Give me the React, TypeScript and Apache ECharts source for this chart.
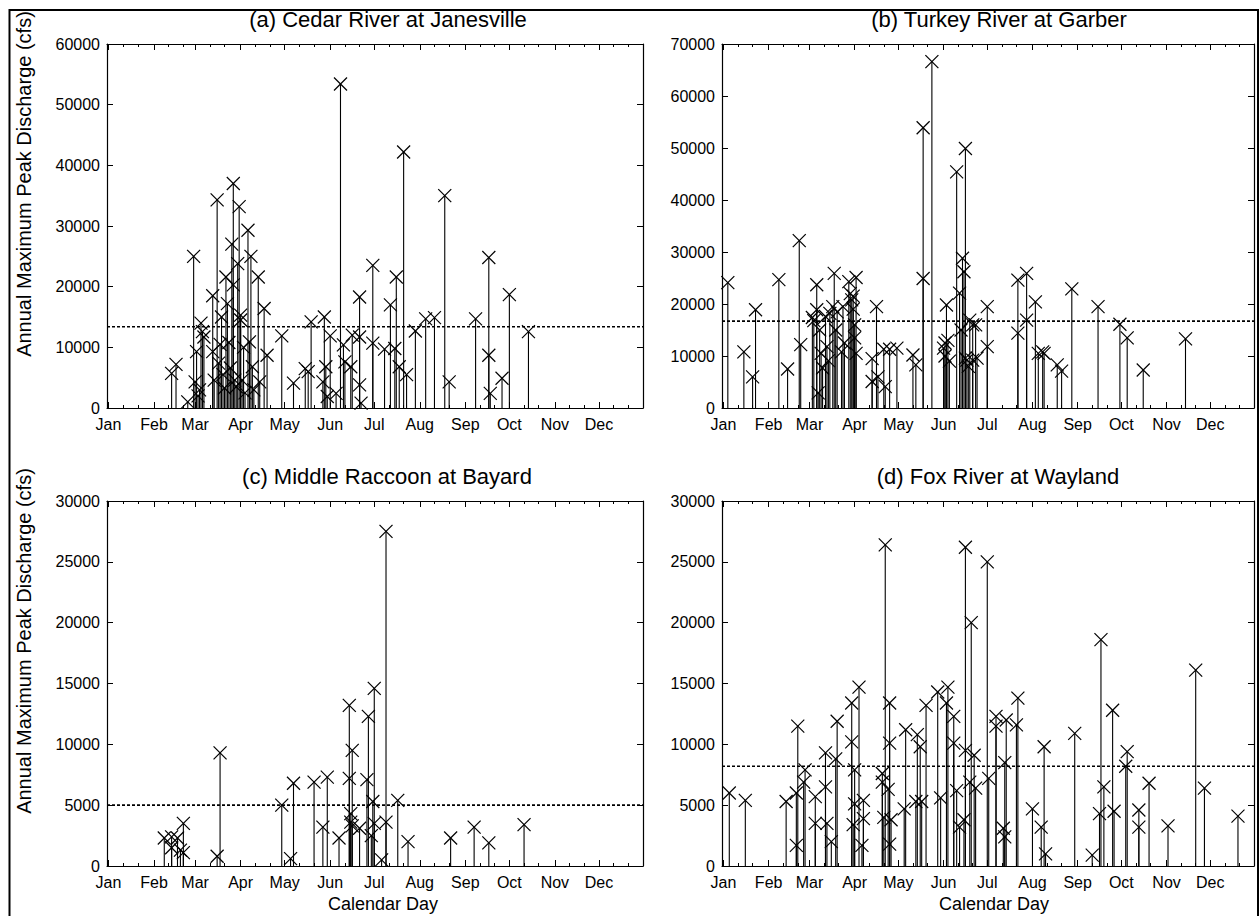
import React, { useEffect, useRef } from 'react';
import * as echarts from 'echarts';

const FONT = '"Liberation Sans", Arial, Helvetica, sans-serif';

const monthNames = ['Jan', 'Feb', 'Mar', 'Apr', 'May', 'Jun', 'Jul', 'Aug', 'Sep', 'Oct', 'Nov', 'Dec'];
const monthStartDays = [1, 32, 60, 91, 121, 152, 182, 213, 244, 274, 305, 335];

const panelTitles = [
  '(a) Cedar River at Janesville',
  '(b) Turkey River at Garber',
  '(c) Middle Raccoon at Bayard',
  '(d) Fox River at Wayland',
];
const yMaxima = [60000, 70000, 30000, 30000];
const yIntervals = [10000, 10000, 5000, 5000];

// (a) Cedar River at Janesville
const cedarDays = [44, 47, 55, 59, 60, 61, 62, 63, 64, 65, 66, 72, 72, 73, 75, 76, 77, 78, 79, 80, 81, 82, 83, 84, 85, 86, 86, 87, 88, 89, 90, 91, 91, 92, 93, 94, 96, 97, 98, 99, 100, 103, 104, 107, 109, 119, 127, 135, 137, 139, 147, 148, 149, 150, 152, 156, 159, 161, 162, 166, 167, 172, 172, 172, 173, 181, 181, 189, 193, 196, 197, 199, 202, 204, 210, 217, 223, 230, 233, 251, 260, 260, 261, 269, 274, 287];
const cedarPeaks = [5700, 7200, 1000, 25000, 4300, 9300, 2000, 3000, 14000, 12600, 11700, 18500, 9300, 4600, 34300, 7400, 10500, 15000, 5500, 3300, 21600, 17200, 10800, 6600, 27000, 20300, 37000, 4600, 3500, 23800, 33200, 15300, 14500, 4600, 10000, 2500, 29300, 10900, 25000, 6800, 3000, 21600, 4300, 16400, 8700, 11900, 4100, 6500, 6000, 14200, 4300, 15000, 6800, 1900, 11900, 2400, 53400, 10400, 7600, 6800, 12000, 18300, 11700, 3800, 800, 23500, 10700, 9700, 17000, 9800, 21600, 6800, 42200, 5500, 12700, 14700, 14900, 35000, 4300, 14700, 24800, 8700, 2400, 4900, 18700, 12600];
const cedarMean = 13400;

// (b) Turkey River at Garber
const turkeyDays = [4, 15, 21, 23, 39, 45, 53, 54, 62, 63, 65, 65, 66, 67, 68, 69, 71, 72, 73, 74, 76, 77, 78, 79, 82, 83, 84, 87, 88, 89, 90, 90, 91, 92, 92, 91, 103, 103, 106, 107, 111, 112, 115, 120, 131, 133, 138, 138, 144, 152, 153, 154, 155, 153, 156, 161, 163, 165, 166, 167, 164, 167, 168, 170, 172, 172, 174, 175, 169, 182, 182, 203, 203, 209, 209, 215, 217, 220, 221, 230, 233, 240, 258, 273, 278, 289, 318];
const turkeyPeaks = [24100, 10800, 6000, 18900, 24700, 7500, 32200, 12200, 17400, 16800, 23700, 18900, 2900, 15000, 10500, 7700, 17600, 11800, 9100, 18200, 19500, 25900, 15000, 18500, 10800, 19500, 12500, 24300, 22000, 20800, 21500, 19000, 16000, 25100, 10500, 13500, 9500, 5100, 19500, 6000, 11300, 4100, 11300, 11500, 10200, 8300, 53900, 24900, 66600, 11500, 12500, 19800, 13000, 10000, 9000, 45400, 22100, 28800, 26200, 49900, 15000, 9600, 9200, 16900, 16000, 9200, 16000, 9600, 8000, 19500, 11800, 24600, 14400, 25900, 16900, 20400, 10500, 10800, 10500, 8300, 7100, 22900, 19500, 16100, 13500, 7300, 13300];
const turkeyMean = 16700;

// (c) Middle Raccoon at Bayard
const raccoonDays = [39, 44, 44, 48, 50, 52, 52, 75, 77, 119, 125, 127, 141, 147, 150, 158, 165, 167, 165, 166, 166, 167, 172, 178, 177, 182, 181, 182, 180, 187, 190, 190, 198, 205, 234, 250, 260, 284];
const raccoonPeaks = [2300, 2400, 1500, 2300, 1300, 3500, 1100, 800, 9300, 5000, 600, 6800, 6900, 3200, 7300, 2300, 13200, 9500, 7200, 4300, 3600, 3300, 3100, 12300, 7100, 14600, 5300, 3500, 2500, 500, 27500, 3600, 5400, 2000, 2300, 3200, 1900, 3400];
const raccoonMean = 5000;

// (d) Fox River at Wayland
const foxDays = [5, 16, 44, 51, 52, 51, 56, 57, 64, 64, 71, 71, 72, 75, 78, 79, 89, 89, 91, 91, 90, 94, 97, 97, 96, 110, 110, 111, 112, 115, 115, 114, 116, 115, 126, 125, 134, 136, 133, 137, 140, 148, 150, 154, 155, 159, 159, 161, 163, 167, 167, 166, 171, 173, 170, 174, 182, 183, 188, 188, 194, 193, 194, 195, 202, 203, 213, 219, 221, 222, 242, 254, 260, 259, 262, 268, 269, 277, 278, 286, 286, 293, 306, 325, 331, 354];
const foxPeaks = [6000, 5400, 5300, 6000, 11500, 1700, 6900, 7900, 5700, 3500, 6500, 9300, 3500, 2000, 8800, 11900, 13400, 10200, 7900, 5100, 3400, 14700, 5400, 3900, 1700, 7600, 6900, 4000, 26400, 13400, 10100, 6300, 3800, 1800, 11200, 4700, 10800, 9800, 5300, 5300, 13200, 14300, 5600, 13400, 14700, 12300, 10100, 6200, 3200, 26200, 9500, 3800, 20000, 9100, 6900, 6400, 25000, 7200, 12300, 11500, 8500, 3100, 2400, 12000, 11600, 13800, 4700, 3200, 9800, 1000, 10900, 900, 18600, 4300, 6500, 12800, 4500, 8200, 9400, 4600, 3200, 6800, 3300, 16100, 6400, 4100];
const foxMean = 8200;

const panelDays = [cedarDays, turkeyDays, raccoonDays, foxDays];
const panelPeaks = [cedarPeaks, turkeyPeaks, raccoonPeaks, foxPeaks];
const panelMeans = [cedarMean, turkeyMean, raccoonMean, foxMean];

// layout
const grids = [
  { left: 107, top: 44, width: 536, height: 364 },
  { left: 722, top: 44, width: 532, height: 364 },
  { left: 107, top: 501, width: 536, height: 365 },
  { left: 722, top: 501, width: 532, height: 365 },
];
const titlePos = [
  [388, 19],
  [999, 19],
  [387, 476],
  [998, 476],
];

const dayCats = Array.from({ length: 366 }, (_, i) => String(i));
const majorSet = new Set(monthStartDays);
const minorSet = new Set<number>();
monthStartDays.forEach((s) => {
  minorSet.add(s + 10);
  minorSet.add(s + 20);
});

function catAxis(gridIndex: number, position: string, set: Set<number>, length: number, labels: boolean, line: boolean) {
  return {
    type: 'category',
    gridIndex,
    position,
    data: dayCats,
    boundaryGap: false,
    axisLine: { show: line, onZero: false, lineStyle: { color: '#000', width: 1.2 } },
    axisTick: {
      show: true,
      inside: true,
      length,
      interval: (i: number) => set.has(i),
      lineStyle: { color: '#000', width: 1 },
    },
    axisLabel: {
      show: labels,
      interval: (i: number) => majorSet.has(i),
      formatter: (v: string) => {
        const k = monthStartDays.indexOf(Number(v));
        return k >= 0 ? monthNames[k] : '';
      },
      fontSize: 16,
      fontFamily: FONT,
      color: '#000',
      margin: 8,
    },
    splitLine: { show: false },
  };
}

function buildOption() {
  const xAxis: any[] = [];
  const yAxis: any[] = [];
  const series: any[] = [];
  grids.forEach((_, p) => {
    xAxis.push({
      type: 'value',
      gridIndex: p,
      min: 0,
      max: 365,
      position: 'bottom',
      axisLine: { show: true, onZero: false, lineStyle: { color: '#000', width: 1.2 } },
      axisTick: { show: false },
      axisLabel: { show: false },
      splitLine: { show: false },
    });
    xAxis.push(catAxis(p, 'bottom', majorSet, 6, true, false));
    xAxis.push(catAxis(p, 'bottom', minorSet, 3, false, false));
    xAxis.push(catAxis(p, 'top', majorSet, 6, false, true));
    xAxis.push(catAxis(p, 'top', minorSet, 3, false, false));
    const yBase = {
      type: 'value',
      gridIndex: p,
      min: 0,
      max: yMaxima[p],
      interval: yIntervals[p],
      axisLine: { show: true, onZero: false, lineStyle: { color: '#000', width: 1.2 } },
      axisTick: { show: true, inside: true, length: 6, lineStyle: { color: '#000', width: 1 } },
      splitLine: { show: false },
    };
    yAxis.push({
      ...yBase,
      position: 'left',
      axisLabel: {
        fontSize: 16,
        fontFamily: FONT,
        color: '#000',
        margin: 7,
        formatter: (v: number) => String(v),
      },
    });
    yAxis.push({ ...yBase, position: 'right', axisLabel: { show: false } });

    const data = panelDays[p].map((d, i) => [d, panelPeaks[p][i]]);
    series.push({
      type: 'custom',
      name: panelTitles[p],
      coordinateSystem: 'cartesian2d',
      xAxisIndex: p * 5,
      yAxisIndex: p * 2,
      encode: { x: 0, y: 1 },
      data,
      renderItem: (params: any, api: any) => {
        const top = api.coord([api.value(0), api.value(1)]);
        const base = api.coord([api.value(0), 0]);
        const s = 6.5;
        const stem = { stroke: '#000', lineWidth: 1.1, fill: null };
        const mk = { stroke: '#000', lineWidth: 1.2, fill: null };
        return {
          type: 'group',
          children: [
            { type: 'line', shape: { x1: top[0], y1: base[1], x2: top[0], y2: top[1] }, style: stem },
            { type: 'line', shape: { x1: top[0] - s, y1: top[1] - s, x2: top[0] + s, y2: top[1] + s }, style: mk },
            { type: 'line', shape: { x1: top[0] - s, y1: top[1] + s, x2: top[0] + s, y2: top[1] - s }, style: mk },
          ],
        };
      },
    });
    series.push({
      type: 'line',
      xAxisIndex: p * 5,
      yAxisIndex: p * 2,
      data: [
        [0, panelMeans[p]],
        [365, panelMeans[p]],
      ],
      symbol: 'none',
      lineStyle: { color: '#000', width: 1.6, type: [3, 2] },
      z: 3,
    });
  });

  const graphic: any[] = [];
  panelTitles.forEach((t, p) => {
    graphic.push({
      type: 'text',
      x: titlePos[p][0],
      y: titlePos[p][1],
      style: { text: t, fontSize: 22, fontFamily: FONT, fill: '#000', textAlign: 'center', textVerticalAlign: 'middle' },
    });
  });
  [184, 641].forEach((cy) => {
    graphic.push({
      type: 'text',
      x: 24,
      y: cy,
      rotation: Math.PI / 2,
      style: {
        text: 'Annual Maximum Peak Discharge (cfs)',
        fontSize: 20,
        fontFamily: FONT,
        fill: '#000',
        textAlign: 'center',
        textVerticalAlign: 'middle',
      },
    });
  });
  [383, 994].forEach((cx) => {
    graphic.push({
      type: 'text',
      x: cx,
      y: 904,
      style: { text: 'Calendar Day', fontSize: 18, fontFamily: FONT, fill: '#000', textAlign: 'center', textVerticalAlign: 'middle' },
    });
  });
  graphic.push({
    type: 'rect',
    shape: { x: 9.5, y: 10, width: 1248.5, height: 930 },
    style: { fill: 'none', stroke: '#000', lineWidth: 2 },
    z: 100,
    silent: true,
  });

  return {
    animation: false,
    backgroundColor: '#fff',
    grid: grids.map((g) => ({ ...g, containLabel: false })),
    xAxis,
    yAxis,
    series,
    graphic,
  };
}

export default function App() {
  const ref = useRef<HTMLDivElement>(null);
  useEffect(() => {
    if (!ref.current) return;
    const chart = echarts.init(ref.current, null, { renderer: 'svg' });
    chart.setOption(buildOption() as any);
    return () => chart.dispose();
  }, []);
  return (
    <div
      ref={ref}
      style={{ position: 'fixed', left: 0, top: 0, width: 1260, height: 916, background: '#fff' }}
    />
  );
}
